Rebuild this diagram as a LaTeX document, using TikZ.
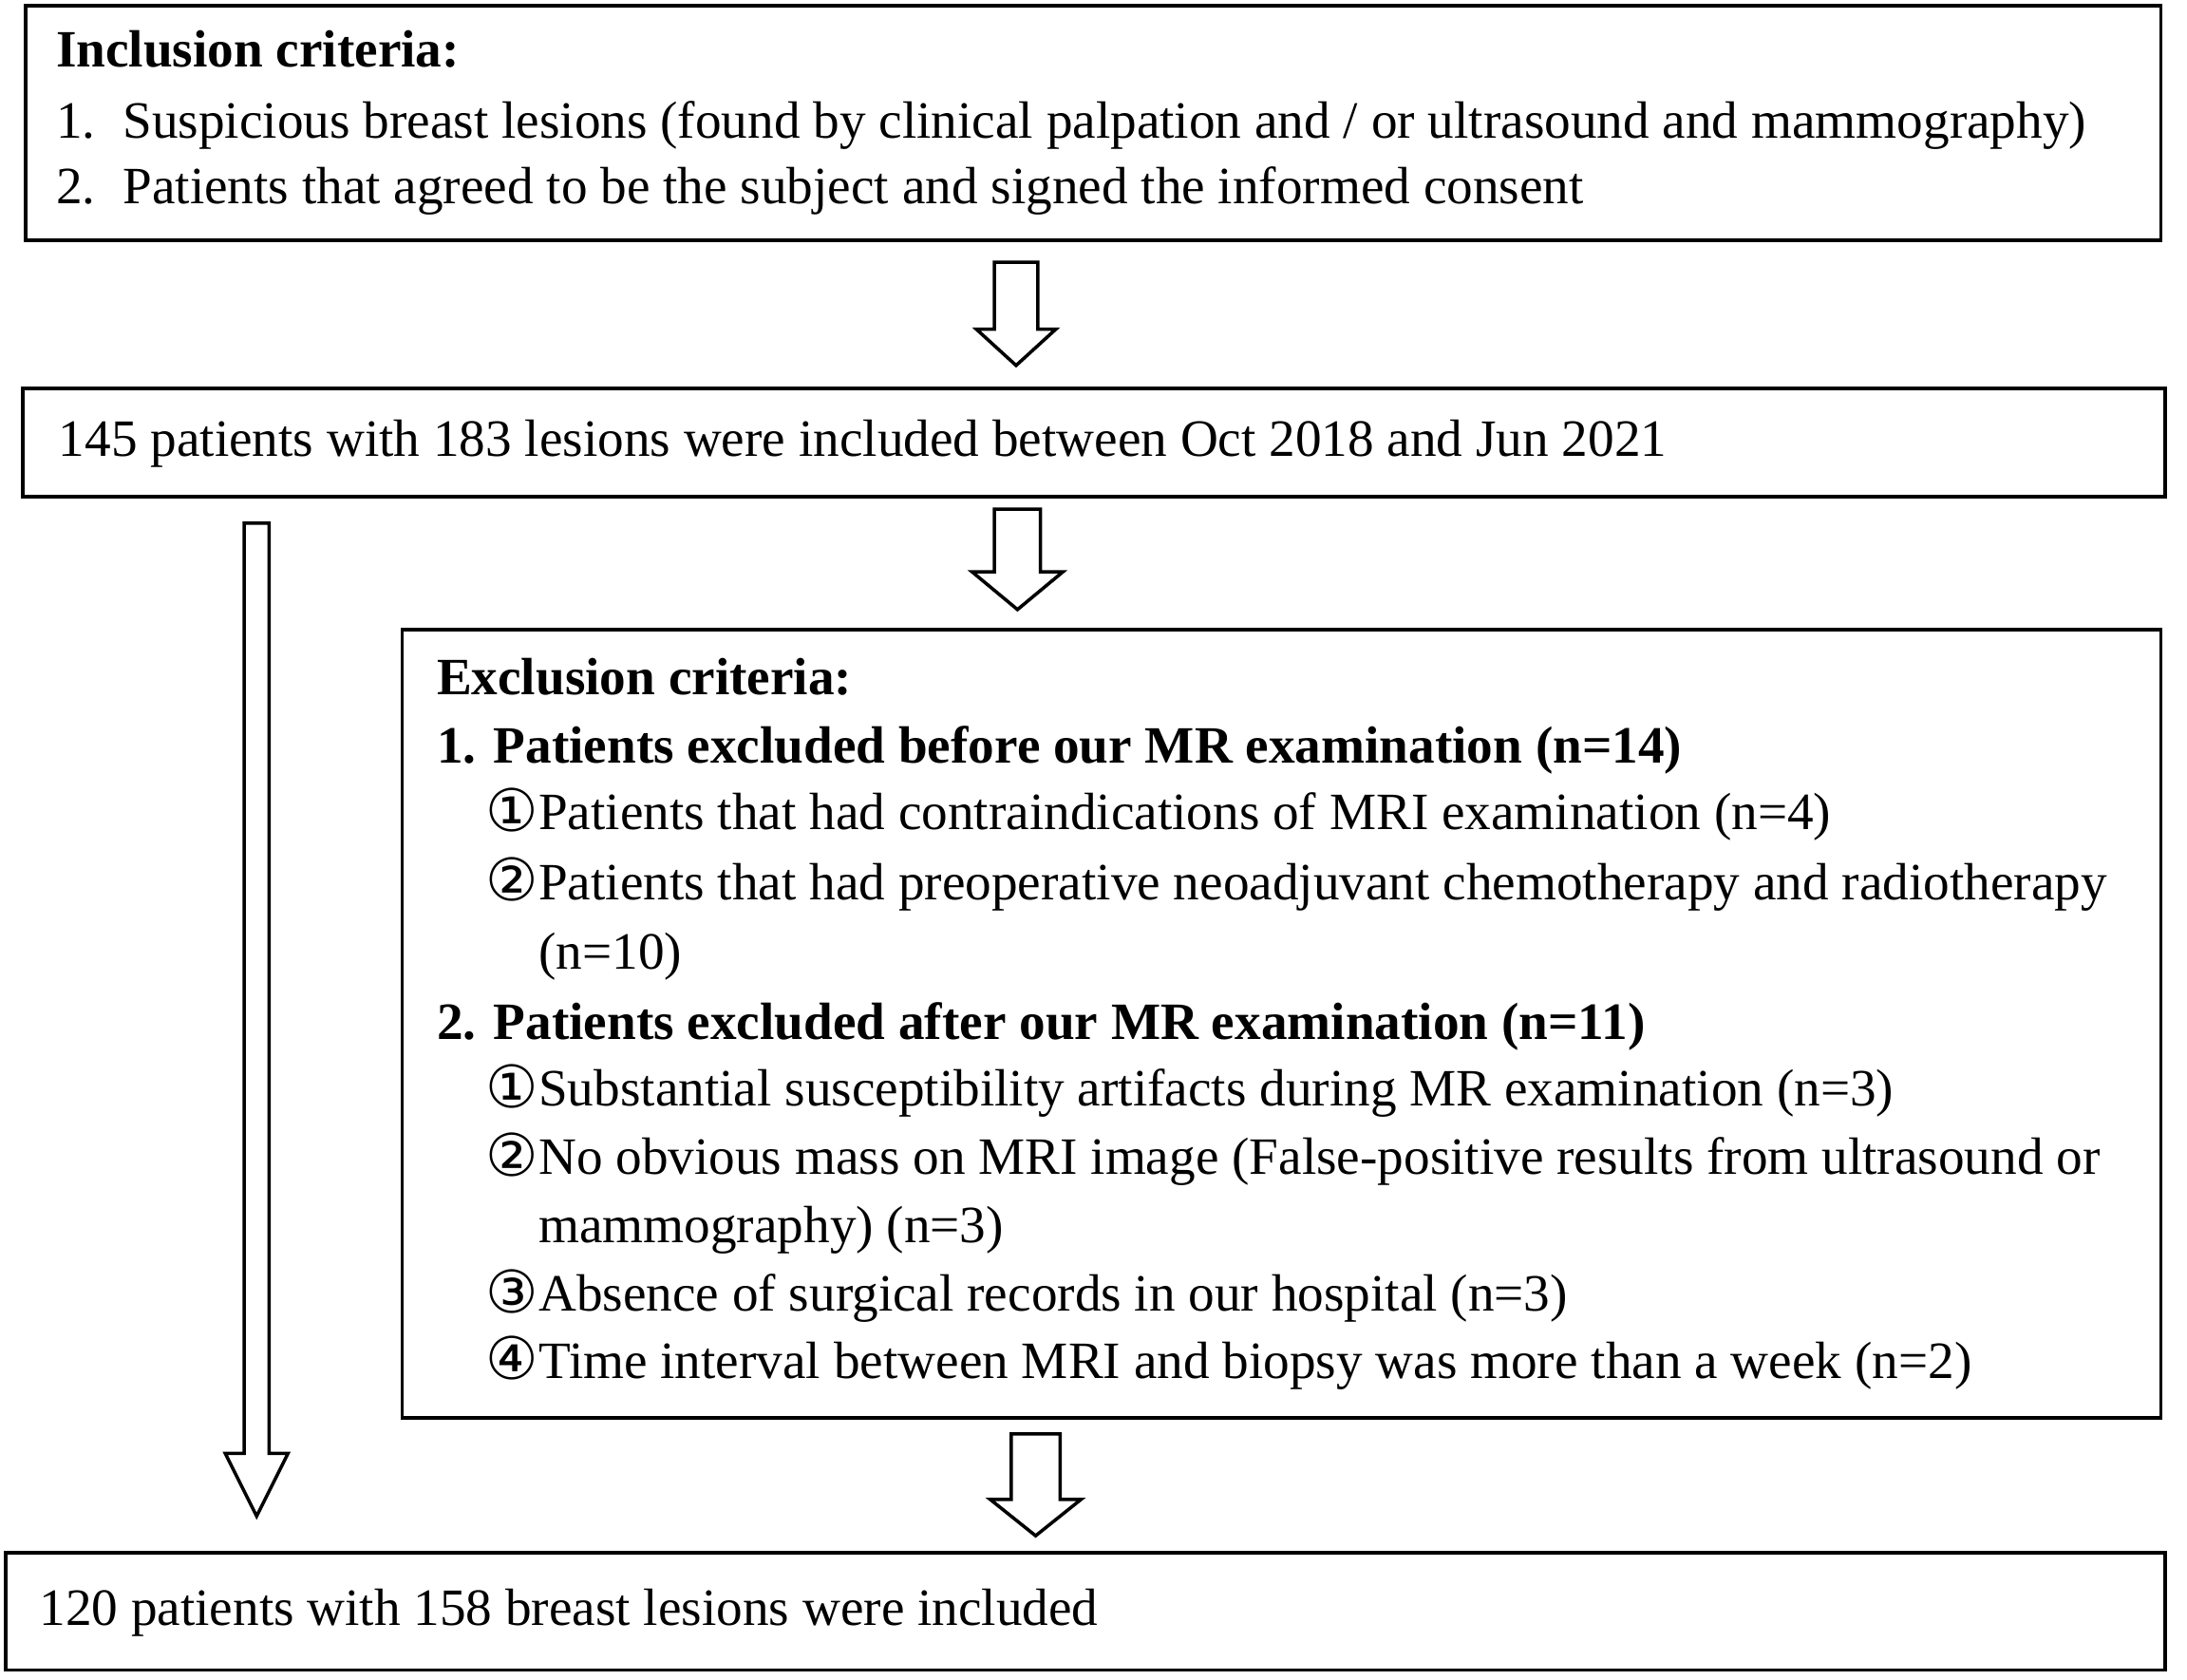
\documentclass[tikz,border=0pt]{standalone}
\usepackage{fontspec}
\setmainfont{Liberation Serif}
\newfontfamily\circfont{DejaVu Sans}
\newcommand{\cn}[1]{\makebox[38pt][l]{\raisebox{-1pt}{\scalebox{1.12}{\circfont #1}}}}
\newcommand{\num}[1]{\makebox[48pt][l]{#1}}
\tikzset{
  frame/.style={draw=black, line width=2.6pt, anchor=north west, inner sep=0pt},
  txt/.style={anchor=base west, inner sep=0pt, font=\fontsize{37.6}{49}\selectfont},
  hd/.style={txt, font=\fontsize{37.6}{49}\selectfont\bfseries},
  barrow/.style={draw=black, line width=2.4pt, fill=white, line join=miter}
}
% block arrow: x center, y top, y head base, y tip, shaft half, head half
\newcommand{\blockarrow}[6]{%
  \draw[barrow] (#1-#5,#2) -- (#1+#5,#2) -- (#1+#5,#3) -- (#1+#6,#3) -- (#1,#4)
    -- (#1-#6,#3) -- (#1-#5,#3) -- cycle;}
\begin{document}
\begin{tikzpicture}[x=1pt,y=-1pt]
\useasboundingbox (0,0) rectangle (1568,1204);
% boxes
\node[frame, minimum width=1531pt, minimum height=168pt] (b1) at (17,3) {};
\node[frame, minimum width=1536pt, minimum height=78pt] (b2) at (15,277) {};
\node[frame, minimum width=1261pt, minimum height=565pt] (b3) at (287,450) {};
\node[frame, minimum width=1548pt, minimum height=84pt] (b4) at (3,1112) {};
% box 1 text
\node[hd] (i0) at (40,48) {Inclusion criteria:};
\node[txt] (i1) at (40,99) {\num{1.}Suspicious breast lesions (found by clinical palpation and / or ultrasound and mammography)};
\node[txt] (i2) at (40,146) {\num{2.}Patients that agreed to be the subject and signed the informed consent};
% box 2 text
\node[txt] (p1) at (42,327) {145 patients with 183 lesions were included between Oct 2018 and Jun 2021};
% box 3 text
\node[hd] (e0) at (313,498) {Exclusion criteria:};
\node[hd] (e1) at (313,547) {1. Patients excluded before our MR examination (n=14)};
\node[txt] (e11) at (348,595) {\cn{①}Patients that had contraindications of MRI examination (n=4)};
\node[txt] (e12) at (348,645) {\cn{②}Patients that had preoperative neoadjuvant chemotherapy and radiotherapy};
\node[txt] (e12b) at (386,695) {(n=10)};
\node[hd] (e2) at (313,745) {2. Patients excluded after our MR examination (n=11)};
\node[txt] (e21) at (348,793) {\cn{①}Substantial susceptibility artifacts during MR examination (n=3)};
\node[txt] (e22) at (348,842) {\cn{②}No obvious mass on MRI image (False-positive results from ultrasound or};
\node[txt] (e22b) at (386,891) {mammography) (n=3)};
\node[txt] (e23) at (348,940) {\cn{③}Absence of surgical records in our hospital (n=3)};
\node[txt] (e24) at (348,988) {\cn{④}Time interval between MRI and biopsy was more than a week (n=2)};
% box 4 text
\node[txt] (f1) at (28,1165) {120 patients with 158 breast lesions were included};
% arrows
\blockarrow{728.5}{188}{236}{262}{15.5}{28.5}
\blockarrow{729.5}{365}{410}{437}{16.5}{32.5}
\blockarrow{742.5}{1028}{1075}{1101}{17.5}{32.5}
\blockarrow{184}{375}{1042}{1087}{9}{22.5}
\end{tikzpicture}
\end{document}
